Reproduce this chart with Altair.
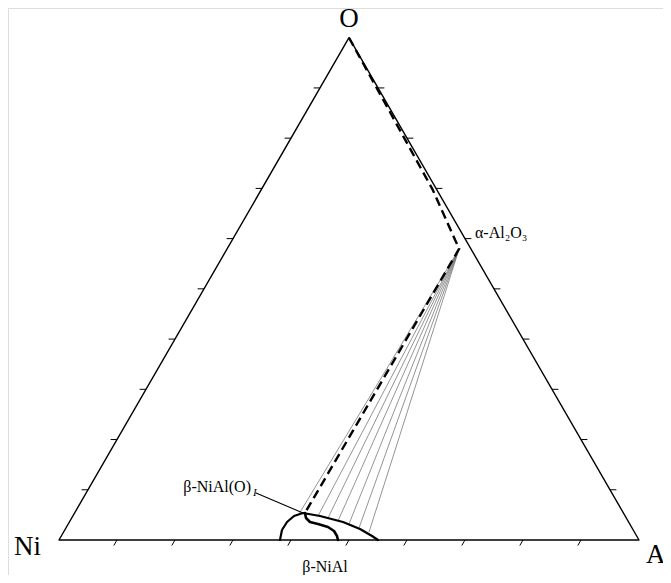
import math
import altair as alt
import pandas as pd

# ---- data (ternary fractions: al = Al, o = O; Ni = 1 - al - o) ----
tri_al = [0.0, 1.0, 0.0, 0.0]
tri_o = [0.0, 0.0, 1.0, 0.0]

tick_vals = [0.1, 0.2, 0.3, 0.4, 0.5, 0.6, 0.7, 0.8, 0.9]

# alpha-Al2O3 focus of the tie-line fan
focus_al = 0.40
focus_o = 0.58

# O - Al2O3 dashed boundary and dashed tie line to beta-NiAl(O)I
dash_al = [0.0, 0.296, 0.384, 0.40, 0.3972]
dash_o = [1.0, 0.697, 0.5976, 0.58, 0.0538]

# beta-NiAl phase field, outer boundary
outer_al = [0.381, 0.3745, 0.3752, 0.3813, 0.3938, 0.4261, 0.4717, 0.508, 0.5357, 0.55]
outer_o = [0.0, 0.0199, 0.0359, 0.0478, 0.0538, 0.0478, 0.0359, 0.0219, 0.008, 0.0]

# beta-NiAl(O)I boundary (inner S curve)
inner_al = [0.3972, 0.404, 0.4148, 0.4306, 0.4508, 0.4652, 0.4753, 0.481]
inner_o = [0.0538, 0.0438, 0.0359, 0.0319, 0.0259, 0.0179, 0.008, 0.0]

# thin tie-line end points on the phase boundary
tie_al = [0.3879, 0.4227, 0.4419, 0.4621, 0.484, 0.5053, 0.5266]
tie_o = [0.0518, 0.0478, 0.0438, 0.0378, 0.0319, 0.0239, 0.0159]

# leader line for the beta-NiAl(O)I label
leader_al = [0.2929, 0.3938]
leader_o = [0.0936, 0.0538]

# labels (anchor in ternary fractions)
corner_txt = ["O", "Ni"]
corner_al = [-0.011, -0.0394]
corner_o = [1.0219, -0.0299]

al_txt = ["Al"]
al_al = [1.035]
al_o = [-0.0458]

phase_txt = ["β-NiAl"]
phase_al = [0.4905]
phase_o = [-0.0637]

oxide_txt = ["α-Al₂O₃"]
oxide_al = [0.4164]
oxide_o = [0.6016]

sol_txt = ["β-NiAl(O)"]
sol_al = [0.2832]
sol_o = [0.0956]

sub_txt = ["I"]
sub_al = [0.2907]
sub_o = [0.0876]

S3 = math.sqrt(3) / 2

xscale = alt.Scale(domain=[-0.08793, 1.04138], nice=False, zero=False)
yscale = alt.Scale(domain=[-0.06034, 0.91724], nice=False, zero=False)

XEXPR = "datum.al + datum.o/2"
YEXPR = f"datum.o*{S3}"


def path_layer(al, o, color="black", width=1.5, dash=None, opacity=1.0):
    df = pd.DataFrame({"al": al, "o": o, "i": list(range(len(al)))})
    kw = dict(color=color, strokeWidth=width, opacity=opacity, strokeCap="round", strokeJoin="round")
    if dash:
        kw["strokeDash"] = dash
        kw["strokeCap"] = "butt"
    return (
        alt.Chart(df)
        .transform_calculate(X=XEXPR, Y=YEXPR)
        .mark_line(interpolate="linear", **kw)
        .encode(
            x=alt.X("X:Q", scale=xscale, axis=None),
            y=alt.Y("Y:Q", scale=yscale, axis=None),
            order="i:Q",
        )
    )


def rule_layer(df, color="black", width=1.0):
    return (
        alt.Chart(df)
        .transform_calculate(
            X=XEXPR,
            Y=YEXPR,
            X2="datum.al2 + datum.o2/2",
            Y2=f"datum.o2*{S3}",
        )
        .mark_rule(color=color, strokeWidth=width)
        .encode(
            x=alt.X("X:Q", scale=xscale, axis=None),
            y=alt.Y("Y:Q", scale=yscale, axis=None),
            x2="X2:Q",
            y2="Y2:Q",
        )
    )


TL = 0.011
ticks = []
for t in tick_vals:
    ticks.append({"al": t, "o": 0.0, "al2": t, "o2": -TL})          # base (Ni-Al)
    ticks.append({"al": 0.0, "o": t, "al2": -TL, "o2": t})          # left (Ni-O)
    ticks.append({"al": 1 - t, "o": t, "al2": 1 - t + TL, "o2": t})  # right (Al-O)
ticks_df = pd.DataFrame(ticks)

ties_df = pd.DataFrame(
    {"al": [focus_al] * len(tie_al), "o": [focus_o] * len(tie_o), "al2": tie_al, "o2": tie_o}
)


def text_layer(txt, al, o, size, align="center", style="normal"):
    df = pd.DataFrame({"t": txt, "al": al, "o": o})
    return (
        alt.Chart(df)
        .transform_calculate(X=XEXPR, Y=YEXPR)
        .mark_text(
            font="Liberation Serif", fontSize=size, align=align, baseline="alphabetic",
            fontStyle=style, color="black",
        )
        .encode(
            x=alt.X("X:Q", scale=xscale, axis=None),
            y=alt.Y("Y:Q", scale=yscale, axis=None),
            text="t:N",
        )
    )


layers = [
    path_layer(tri_al, tri_o, width=1.4),
    rule_layer(ticks_df, width=1.0),
    rule_layer(ties_df, color="#666666", width=0.7),
    path_layer(dash_al, dash_o, width=2.4, dash=[9, 5]),
    path_layer(outer_al, outer_o, width=2.2),
    path_layer(inner_al, inner_o, width=2.6),
    path_layer(leader_al, leader_o, width=1.1),
    text_layer(corner_txt, corner_al, corner_o, 27),
    text_layer(al_txt, al_al, al_o, 27, align="left"),
    text_layer(phase_txt, phase_al, phase_o, 16),
    text_layer(oxide_txt, oxide_al, oxide_o, 16, align="left"),
    text_layer(sol_txt, sol_al, sol_o, 16, align="right"),
    text_layer(sub_txt, sub_al, sub_o, 11, align="left", style="italic"),
]

chart = (
    alt.layer(*layers)
    .properties(width=655, height=567, autosize=alt.AutoSizeParams(type="none"), padding=0)
    .configure_view(stroke="transparent", strokeWidth=0)
    .configure(background="white")
)

chart.save("out.html", embed_options={"renderer": "svg", "actions": False})
